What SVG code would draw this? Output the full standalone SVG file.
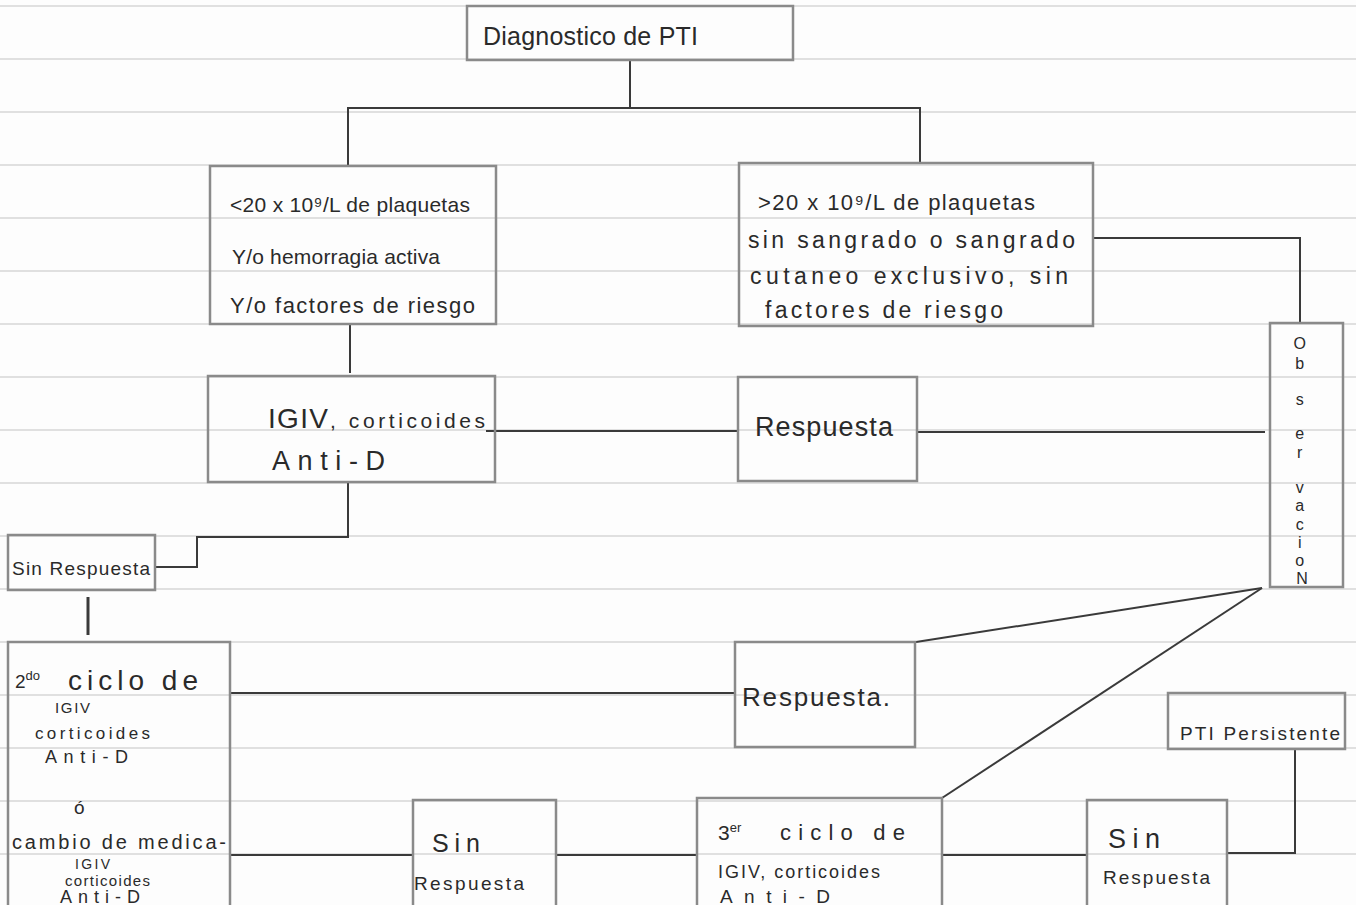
<svg xmlns="http://www.w3.org/2000/svg" width="1356" height="905" viewBox="0 0 1356 905">
<style>
.paper{stroke:#c4c4c4;stroke-width:1.2}
.box{fill:none;stroke:#8a8a8a;stroke-width:2.5}
.con{fill:none;stroke:#3a3a3a;stroke-width:2}
.t{font-family:"Liberation Sans",Arial,sans-serif;fill:#2a2a2a}
</style>
<rect width="1356" height="905" fill="#fdfdfd"/>
<g id="paper">
<line class="paper" x1="0" y1="6" x2="1356" y2="6"/>
<line class="paper" x1="0" y1="59" x2="1356" y2="59"/>
<line class="paper" x1="0" y1="112" x2="1356" y2="112"/>
<line class="paper" x1="0" y1="165" x2="1356" y2="165"/>
<line class="paper" x1="0" y1="218" x2="1356" y2="218"/>
<line class="paper" x1="0" y1="271" x2="1356" y2="271"/>
<line class="paper" x1="0" y1="324" x2="1356" y2="324"/>
<line class="paper" x1="0" y1="377" x2="1356" y2="377"/>
<line class="paper" x1="0" y1="430" x2="1356" y2="430"/>
<line class="paper" x1="0" y1="483" x2="1356" y2="483"/>
<line class="paper" x1="0" y1="536" x2="1356" y2="536"/>
<line class="paper" x1="0" y1="589" x2="1356" y2="589"/>
<line class="paper" x1="0" y1="642" x2="1356" y2="642"/>
<line class="paper" x1="0" y1="695" x2="1356" y2="695"/>
<line class="paper" x1="0" y1="748" x2="1356" y2="748"/>
<line class="paper" x1="0" y1="801" x2="1356" y2="801"/>
<line class="paper" x1="0" y1="854" x2="1356" y2="854"/>
</g>
<g id="connectors">
<polyline class="con" points="630,60 630,108"/>
<polyline class="con" points="348,165 348,108 920,108 920,163"/>
<polyline class="con" points="350,325 350,373"/>
<polyline class="con" points="486,431 738,431"/>
<polyline class="con" points="917,432 1265,432"/>
<polyline class="con" points="1093,238 1300,238 1300,322"/>
<polyline class="con" points="348,482 348,537 197,537 197,567 155,567"/>
<polyline class="con" points="88,597 88,635" style="stroke-width:3"/>
<polyline class="con" points="230,693 735,693"/>
<polyline class="con" points="1262,588 916,642"/>
<polyline class="con" points="1262,588 942,798"/>
<polyline class="con" points="1295,749 1295,853 1227,853"/>
<polyline class="con" points="230,855 413,855"/>
<polyline class="con" points="556,855 697,855"/>
<polyline class="con" points="942,855 1087,855"/>
</g>
<g id="n-diagnostico">
<rect class="box" x="467" y="6" width="326" height="54"/>
<text class="t" x="483" y="45" font-size="25" textLength="215" lengthAdjust="spacing">Diagnostico de PTI</text>
</g>
<g id="n-menor20">
<rect class="box" x="210" y="166" width="286" height="158"/>
<text class="t" x="230" y="212" font-size="21" textLength="240" lengthAdjust="spacing">&lt;20 x 10⁹/L de plaquetas</text>
<text class="t" x="232" y="264" font-size="21" textLength="208" lengthAdjust="spacing">Y/o hemorragia activa</text>
<text class="t" x="230" y="313" font-size="22" textLength="245" lengthAdjust="spacing">Y/o factores de riesgo</text>
</g>
<g id="n-mayor20">
<rect class="box" x="739" y="163" width="354" height="163"/>
<text class="t" x="758" y="210" font-size="22" textLength="277" lengthAdjust="spacing">&gt;20 x 10⁹/L de plaquetas</text>
<text class="t" x="748" y="248" font-size="23" textLength="327" lengthAdjust="spacing">sin sangrado o sangrado</text>
<text class="t" x="750" y="284" font-size="23" textLength="318" lengthAdjust="spacing">cutaneo exclusivo, sin</text>
<text class="t" x="765" y="318" font-size="23" textLength="238" lengthAdjust="spacing">factores de riesgo</text>
</g>
<g id="n-igiv">
<rect class="box" x="208" y="376" width="287" height="106"/>
<text class="t" x="268" y="428" font-size="28" textLength="60" lengthAdjust="spacing">IGIV</text>
<text class="t" x="330" y="428" font-size="21" textLength="155" lengthAdjust="spacing">, corticoides</text>
<text class="t" x="272" y="470" font-size="27" textLength="113" lengthAdjust="spacing">Anti-D</text>
</g>
<g id="n-respuesta1">
<rect class="box" x="738" y="377" width="179" height="104"/>
<text class="t" x="755" y="436" font-size="27" textLength="138" lengthAdjust="spacing">Respuesta</text>
</g>
<g id="n-observacion">
<rect class="box" x="1270" y="323" width="73" height="264"/>
<text class="t" font-size="16" text-anchor="middle">
<tspan x="1302" y="349">O</tspan>
<tspan x="1302" y="369">b</tspan>
<tspan x="1302" y="405">s</tspan>
<tspan x="1302" y="439">e</tspan>
<tspan x="1302" y="458">r</tspan>
<tspan x="1302" y="493">v</tspan>
<tspan x="1302" y="511">a</tspan>
<tspan x="1302" y="530">c</tspan>
<tspan x="1302" y="548">i</tspan>
<tspan x="1302" y="566">o</tspan>
<tspan x="1302" y="584">N</tspan>
</text>
</g>
<g id="n-sinrespuesta1">
<rect class="box" x="8" y="535" width="147" height="55"/>
<text class="t" x="12" y="575" font-size="19" textLength="138" lengthAdjust="spacing">Sin Respuesta</text>
</g>
<g id="n-segundo">
<rect class="box" x="8" y="642" width="222" height="270"/>
<text class="t" x="15" y="688" font-size="19">2<tspan font-size="13" dy="-8">do</tspan></text>
<text class="t" x="68" y="690" font-size="28" textLength="130" lengthAdjust="spacing">ciclo de</text>
<text class="t" x="55" y="713" font-size="15" textLength="35" lengthAdjust="spacing">IGIV</text>
<text class="t" x="35" y="739" font-size="17" textLength="115" lengthAdjust="spacing">corticoides</text>
<text class="t" x="45" y="763" font-size="18" textLength="83" lengthAdjust="spacing">Anti-D</text>
<text class="t" x="74" y="814" font-size="19">ó</text>
<text class="t" x="12" y="849" font-size="20" textLength="214" lengthAdjust="spacing">cambio de medica-</text>
<text class="t" x="75" y="869" font-size="14" textLength="35" lengthAdjust="spacing">IGIV</text>
<text class="t" x="65" y="886" font-size="15" textLength="85" lengthAdjust="spacing">corticoides</text>
<text class="t" x="60" y="903" font-size="18" textLength="80" lengthAdjust="spacing">Anti-D</text>
</g>
<g id="n-respuesta2">
<rect class="box" x="735" y="642" width="180" height="105"/>
<text class="t" x="742" y="706" font-size="26" textLength="148" lengthAdjust="spacing">Respuesta.</text>
</g>
<g id="n-persistente">
<rect class="box" x="1168" y="693" width="177" height="56"/>
<text class="t" x="1180" y="740" font-size="19" textLength="160" lengthAdjust="spacing">PTI Persistente</text>
</g>
<g id="n-sinrespuesta2">
<rect class="box" x="413" y="800" width="143" height="110"/>
<text class="t" x="432" y="852" font-size="25" textLength="48" lengthAdjust="spacing">Sin</text>
<text class="t" x="414" y="890" font-size="19" textLength="110" lengthAdjust="spacing">Respuesta</text>
</g>
<g id="n-tercero">
<rect class="box" x="697" y="798" width="245" height="112"/>
<text class="t" x="718" y="840" font-size="21">3<tspan font-size="13" dy="-8">er</tspan></text>
<text class="t" x="780" y="840" font-size="22" textLength="125" lengthAdjust="spacing">ciclo de</text>
<text class="t" x="718" y="878" font-size="18" textLength="162" lengthAdjust="spacing">IGIV, corticoides</text>
<text class="t" x="720" y="903" font-size="19" textLength="110" lengthAdjust="spacing">Anti-D</text>
</g>
<g id="n-sinrespuesta3">
<rect class="box" x="1087" y="800" width="140" height="110"/>
<text class="t" x="1108" y="848" font-size="27" textLength="52" lengthAdjust="spacing">Sin</text>
<text class="t" x="1103" y="884" font-size="19" textLength="107" lengthAdjust="spacing">Respuesta</text>
</g>
</svg>
